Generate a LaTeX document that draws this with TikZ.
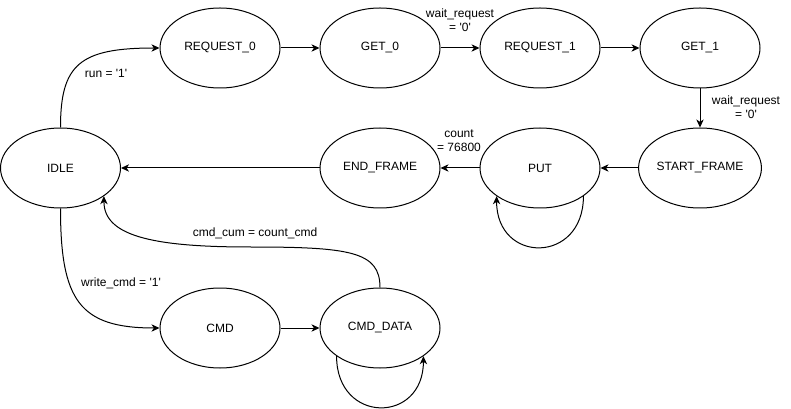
\documentclass[tikz,border=0pt]{standalone}
\usepackage{fontspec}
\setmainfont{Liberation Sans}[Ligatures=TeXOff]
\usetikzlibrary{shapes.geometric,arrows.meta}
\begin{document}
\begin{tikzpicture}[x=0.75pt,y=-0.75pt,
  state/.style={draw,ellipse,line width=0.75pt,minimum width=90pt,minimum height=60pt,inner sep=0pt,font=\fontsize{9pt}{10.5pt}\selectfont},
  lbl/.style={font=\fontsize{9pt}{10.5pt}\selectfont,align=center,inner sep=0pt},
  edge/.style={line width=0.75pt,-{Stealth[length=6pt,width=5.5pt,inset=1.8pt]}}]
\useasboundingbox (0,0) rectangle (791,409);
\node[state] (req0) at (220,48) {REQUEST\_0};
\node[state] (get0) at (380,48) {GET\_0};
\node[state] (req1) at (540,48) {REQUEST\_1};
\node[state] (get1) at (700,48) {GET\_1};
\node[state] (idle) at (60.5,168) {IDLE};
\node[state] (endf) at (380,168) {END\_FRAME};
\node[state] (put) at (540,168) {PUT};
\node[state] (startf) at (700,168) {START\_FRAME};
\node[state] (cmd) at (220,328) {CMD};
\node[state] (cmdd) at (380,328) {CMD\_DATA};
\coordinate (mid) at (250,247);

\draw[edge] (idle.north) .. controls +(0,-63) and +(-80,0) .. (req0.west);
\draw[edge] (req0) -- (get0);
\draw[edge] (get0) -- (req1);
\draw[edge] (req1) -- (get1);
\draw[edge] (get1) -- (startf);
\draw[edge] (startf) -- (put);
\draw[edge] (put) -- (endf);
\draw[edge] (endf) -- (idle);
\draw[edge] (put.-33) .. controls +(0,68) and +(0,68) .. (put.213);
\draw[edge] (idle.south) .. controls +(0,92) and +(-80,0) .. (cmd.west);
\draw[edge] (cmd) -- (cmdd);
\draw[edge] (cmdd.north) .. controls +(0,-36) and (350,247) .. (mid) .. controls (150,247) and +(0,39) .. (idle.-33);
\draw[edge] (cmdd.213) .. controls +(0,68) and +(0,68) .. (cmdd.-33);

\node[lbl] (l1) at (106,73) {run = '1'};
\node[lbl] (l2) at (460,20) {wait\_request\\= '0'};
\node[lbl] (l3) at (746,107) {wait\_request\\= '0'};
\node[lbl] (l4) at (459,141) {count\\= 76800};
\node[lbl] (l5) at (255,233) {cmd\_cum = count\_cmd};
\node[lbl] (l6) at (121,283) {write\_cmd = '1'};
\end{tikzpicture}
\end{document}
